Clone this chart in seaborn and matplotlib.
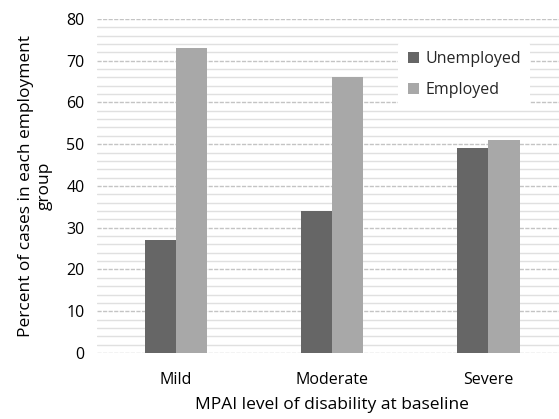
import matplotlib
matplotlib.use("Agg")
import matplotlib.pyplot as plt
import seaborn as sns
import pandas as pd
from matplotlib.ticker import MultipleLocator

levels = ["Mild", "Moderate", "Severe"]
unemployed = [27, 34, 49]
employed = [73, 66, 51]
groups = ["Unemployed", "Employed"]
colors = ["#666666", "#a8a8a8"]

df = pd.DataFrame({
    "level": levels * 2,
    "pct": unemployed + employed,
    "group": [groups[0]] * 3 + [groups[1]] * 3,
})

sns.set_theme(style="white")
plt.rcParams["font.family"] = ["Open Sans", "DejaVu Sans"]

fig = plt.figure(figsize=(5.59, 4.19), dpi=100)
ax = fig.add_axes([0.1735, 0.1575, 0.84, 0.7975])

sns.barplot(data=df, x="level", y="pct", hue="group", order=levels,
            hue_order=groups, palette=colors, width=0.4, saturation=1,
            edgecolor="none", ax=ax, zorder=3)

ax.set_ylim(0, 80)
ax.set_xlim(-0.505, 2.5)
ax.yaxis.set_major_locator(MultipleLocator(10))
ax.yaxis.set_minor_locator(MultipleLocator(2))
ax.grid(which="minor", axis="y", color="#e0e0e0", linewidth=1.0, zorder=0)
ax.grid(which="major", axis="y", color="#c4c4c4", linewidth=1.0,
        linestyle=(0, (3, 1)), zorder=0)
ax.set_axisbelow(True)
for s in ax.spines.values():
    s.set_visible(False)
ax.tick_params(axis="both", which="both", length=0, labelsize=11.5,
               colors="#000000", pad=9)
ax.tick_params(axis="x", pad=14)

ax.set_xlabel("MPAI level of disability at baseline", fontsize=12.5,
              color="#000000", labelpad=6)
ax.set_ylabel("Percent of cases in each employment\ngroup", fontsize=12.5,
              color="#000000", labelpad=10)

leg = ax.legend(loc="upper right", bbox_to_anchor=(0.94, 0.955), frameon=True,
                fontsize=11.5, handlelength=0.7, handleheight=0.7,
                handletextpad=0.4, labelspacing=0.9, borderpad=0.6)
leg.get_frame().set_facecolor("white")
leg.get_frame().set_edgecolor("none")
leg.get_frame().set_alpha(1)

fig.savefig("out.png", dpi=100)
